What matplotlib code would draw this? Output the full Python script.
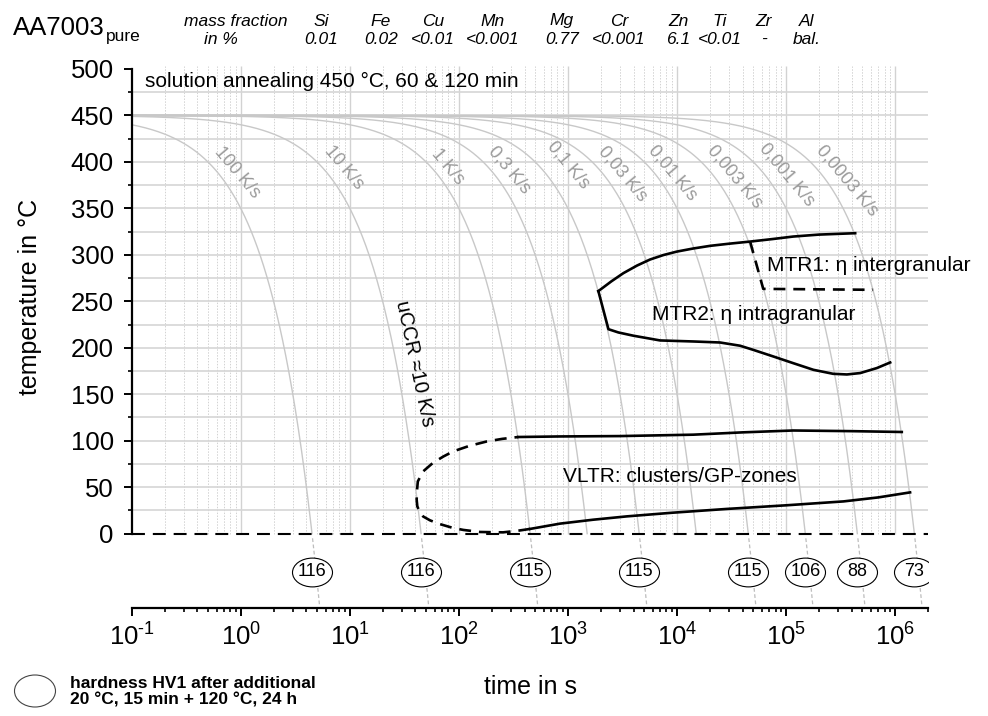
import numpy as np
import matplotlib
matplotlib.use('Agg')
import matplotlib.pyplot as plt
from matplotlib.path import Path
from matplotlib.transforms import Affine2D
from matplotlib.patches import Ellipse

plt.rcParams['font.family'] = ['Liberation Sans', 'DejaVu Sans']
plt.rcParams['mathtext.fontset'] = 'custom'
plt.rcParams['mathtext.rm'] = 'Liberation Sans'
plt.rcParams['mathtext.it'] = 'Liberation Sans:italic'
plt.rcParams['mathtext.bf'] = 'Liberation Sans:bold'
plt.rcParams['axes.unicode_minus'] = False

# --- data -------------------------------------------------------------
rates = [100, 10, 1, 0.3, 0.1, 0.03, 0.01, 0.003, 0.001, 0.0003]
rate_labels = ['100 K/s', '10 K/s', '1 K/s', '0,3 K/s', '0,1 K/s', '0,03 K/s',
               '0,01 K/s', '0,003 K/s', '0,001 K/s', '0,0003 K/s']
label_t = [0.925, 8.85, 79.6, 288, 1000, 3140, 9020, 34100, 102000, 363000]
label_T = [389, 393.5, 394.6, 391.4, 396.8, 387, 388, 383.9, 386, 379.6]

hv_rates = [100, 10, 1, 0.1, 0.01, 0.003, 0.001, 0.0003]
hv_values = [116, 116, 115, 115, 115, 106, 88, 73]

# MTR (eta) upper boundary
mtr_up_t = [1900, 2500, 3220, 4300, 5660, 7500, 9950, 14000, 20100, 30000,
            46800, 75000, 116000, 200000, 430000]
mtr_up_T = [261, 271.5, 280.3, 288.5, 295, 299.8, 303.5, 306.8, 309.7, 312,
            314.3, 317, 319.7, 321.8, 323.3]
# MTR1 dashed border
mtr1_t = [46800, 61700, 628000]
mtr1_T = [314.3, 263.4, 262.4]
# MTR2 lower boundary
mtr2_t = [1900, 2350, 2900, 3980, 7000, 14100, 24800, 37900, 49900, 76600,
          116000, 178000, 270000, 361000, 478000, 680000, 900000]
mtr2_T = [261, 220, 216.5, 213, 207.9, 206.8, 205.7, 202.2, 197.8, 190.6,
          183.5, 176.3, 172, 171.3, 172.8, 178.2, 184.2]

# VLTR
vltr_dash_t = [450, 350, 254, 156, 110, 88.5, 66, 54.4, 47, 44, 41.5, 41,
               41.3, 42, 47, 58, 72, 88.5, 125, 180, 250, 351]
vltr_dash_T = [5.1, 3.2, 1.4, 1.8, 4.0, 6.1, 10.5, 14.3, 18.5, 22.6, 29.5, 36.6,
               46.5, 56.2, 67, 76.3, 83, 88.5, 94.5, 99.2, 102, 104]
vltr_up_t = [351, 847, 3000, 14060, 40000, 116000, 400000, 1150000]
vltr_up_T = [104, 104.6, 105, 106.5, 109, 111, 110.3, 109.4]
vltr_lo_t = [450, 847, 1700, 3470, 9000, 28600, 100000, 336000, 700000, 1370000]
vltr_lo_T = [5.1, 10.8, 15, 18.6, 22.5, 26.6, 30.5, 34.7, 39, 44.4]

elements = ['Si', 'Fe', 'Cu', 'Mn', 'Mg', 'Cr', 'Zn', 'Ti', 'Zr', 'Al']
contents = ['0.01', '0.02', '<0.01', '<0.001', '0.77', '<0.001', '6.1', '<0.01', '-', 'bal.']
elem_x = [321, 381, 433, 493, 562, 619, 678, 720, 764, 807]

T0 = 450  # solution annealing temperature

W, H = 988, 716
def px(x, y):
    return x / W, 1 - y / H

fig = plt.figure(figsize=(9.88, 7.16), dpi=100)
ax = fig.add_axes([131.7 / W, 108 / H, 796.3 / W, 548.3 / H])
ax.set_xscale('log')
ax.set_xlim(0.1, 2e6)
ax.set_ylim(-80, 510)

# grid (drawn by hand so it stops at 0 °C)
for d in range(0, 7):
    ax.vlines(10.0 ** d, 0, 503, color='#d2d2d2', lw=1.0, zorder=0)
for d in range(-1, 6):
    for k in range(2, 10):
        ax.vlines(k * 10.0 ** d, 0, 503, color='#d2d2d2', lw=0.7,
                  linestyles=(0, (1.5, 1.5)), zorder=0)
for y in range(25, 500, 25):
    ax.hlines(y, 0.1, 2e6, color='#d6d6d6', lw=1.2, zorder=0)

# cooling curves
grey = '#c8c8c8'
for r in rates:
    t = np.logspace(-1, np.log10(T0 / r), 400)
    ax.plot(t, T0 - r * t, color=grey, lw=1.0, zorder=1)
for r in hv_rates:
    t = np.logspace(np.log10((T0 + 5) / r), np.log10((T0 + 78) / r), 20)
    ax.plot(t, T0 - r * t, color='#bdbdbd', lw=0.9, ls=(0, (3, 2)), zorder=1)

for lab, lt, lT in zip(rate_labels, label_t, label_T):
    ax.text(lt, lT, lab, color='#9a9a9a', fontsize=13, rotation=-50,
            rotation_mode='anchor', ha='center', va='center')

# zero line
ax.axhline(0, color='black', lw=1.5, dashes=(6.2, 3.8), zorder=3)

# precipitation regions
blk = dict(color='black', lw=1.9, zorder=4, solid_joinstyle='round')
ax.plot(mtr_up_t, mtr_up_T, **blk)
ax.plot(mtr2_t, mtr2_T, **blk)
ax.plot(mtr1_t, mtr1_T, dashes=(4.5, 3), **blk)
ax.plot(vltr_dash_t, vltr_dash_T, dashes=(4.5, 3), **blk)
ax.plot(vltr_up_t, vltr_up_T, **blk)
ax.plot(vltr_lo_t, vltr_lo_T, **blk)

ax.text(0.1324, 487, 'solution annealing 450 °C, 60 & 120 min', fontsize=15,
        ha='left', va='center')
ax.text(67000, 289, 'MTR1: η intergranular', fontsize=15, ha='left', va='center')
ax.text(5920, 235.5, 'MTR2: η intragranular', fontsize=15, ha='left', va='center')
ax.text(902, 61.3, 'VLTR: clusters/GP-zones', fontsize=15, ha='left', va='center')
ax.text(39.5, 183.3, 'uCCR ≈10 K/s', fontsize=14.5, rotation=-78,
        rotation_mode='anchor', ha='center', va='center')

# hardness ellipses
ell = Path.unit_circle().transformed(Affine2D().scale(1.0, 0.72))
for r, hv in zip(hv_rates, hv_values):
    ax.plot(T0 / r, -41, marker=ell, ms=28.8, mfc='white', mec='black',
            mew=0.8, zorder=5)
    ax.text(T0 / r, -41, str(hv), fontsize=13, ha='center', va='center', zorder=6)

# axes styling
for s in ['top', 'right']:
    ax.spines[s].set_visible(False)
ax.spines['left'].set_bounds(0, 500)
ax.spines['left'].set_linewidth(1.6)
ax.spines['bottom'].set_linewidth(1.6)
ax.set_yticks(range(0, 501, 50))
ax.set_yticks(range(25, 500, 50), minor=True)
ax.set_xticks([10.0 ** d for d in range(-1, 7)])
ax.set_xticklabels([r'$\mathregular{10^{\text{-}1}}$'] +
                   [r'$\mathregular{10^{%d}}$' % d for d in range(0, 7)])
ax.set_xticks([k * 10.0 ** d for d in range(-1, 7) for k in range(2, 10)
               if k * 10.0 ** d <= 2e6], minor=True)
ax.xaxis.set_minor_formatter(plt.NullFormatter())
ax.tick_params(axis='both', which='major', direction='out', length=6, width=1.4,
               labelsize=18.5, pad=5)
ax.tick_params(axis='both', which='minor', direction='out', length=3, width=1.2)
ax.tick_params(axis='y', which='major', pad=7)

# outer texts
fig.text(*px(13, 35), 'AA7003', fontsize=18.5, ha='left', va='baseline')
fig.text(*px(106, 41), 'pure', fontsize=12.5, ha='left', va='baseline')
fig.text(*px(236, 21), 'mass fraction', fontsize=12.5, style='italic',
         ha='center', va='center')
fig.text(*px(221, 39), 'in %', fontsize=12.5, style='italic',
         ha='center', va='center')
for ex, el, c in zip(elem_x, elements, contents):
    fig.text(*px(ex, 21), el, fontsize=12.5, style='italic', ha='center', va='center')
    fig.text(*px(ex, 39), c, fontsize=12.5, style='italic', ha='center', va='center')

fig.text(*px(30, 297), 'temperature in °C', fontsize=18, rotation=90,
         ha='center', va='center')
fig.text(*px(530, 687), 'time in s', fontsize=18, ha='center', va='center')

fig.patches.append(Ellipse(px(35, 691), 41 / W, 32 / H, transform=fig.transFigure,
                           fc='white', ec='#444444', lw=0.8))
fig.text(*px(70, 692), 'hardness HV1 after additional\n20 °C, 15 min + 120 °C, 24 h',
         fontsize=12.5, fontweight='bold', ha='left', va='center', linespacing=1.15)

fig.savefig('out.png', dpi=100)
